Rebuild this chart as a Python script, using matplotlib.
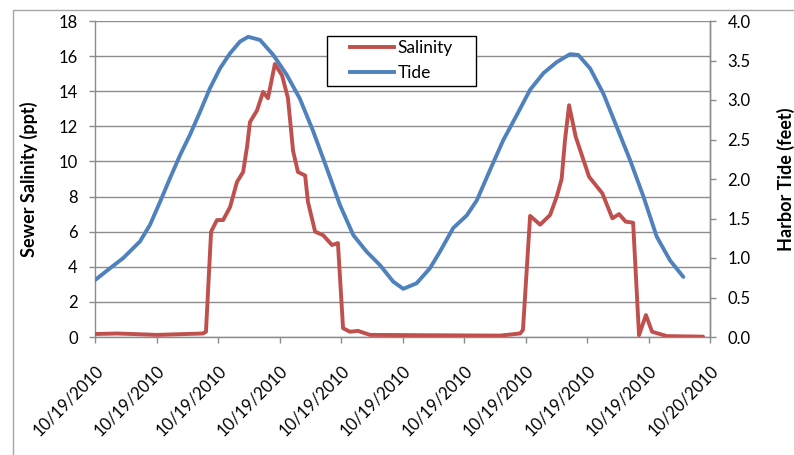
import matplotlib.pyplot as plt
from matplotlib.lines import Line2D
from matplotlib.patches import Rectangle

plt.rcParams['font.family'] = ['Lato', 'DejaVu Sans']

# hours since start of record (0 = first tick, 24 = 10/20/2010)
sal_hours = [0, 0.86, 2.42, 4.21, 4.33, 4.53, 4.76, 5.0, 5.27, 5.54, 5.78, 5.93, 6.05, 6.32,
             6.56, 6.75, 7.02, 7.30, 7.53, 7.73, 7.92, 8.20, 8.31, 8.59, 8.90, 9.25, 9.48,
             9.68, 9.95, 10.26, 10.73, 13.07, 15.80, 16.59, 16.70, 16.98, 17.37, 17.76,
             18.02, 18.21, 18.34, 18.50, 18.76, 19.28, 19.80, 20.19, 20.45, 20.71, 21.0,
             21.23, 21.50, 21.74, 22.32, 23.73]
salinity = [0.17, 0.2, 0.12, 0.2, 0.3, 6.0, 6.66, 6.66, 7.4, 8.83, 9.4, 10.8, 12.25, 12.9,
            13.96, 13.6, 15.55, 14.9, 13.6, 10.6, 9.4, 9.2, 7.7, 6.0, 5.8, 5.24, 5.35,
            0.5, 0.3, 0.35, 0.12, 0.1, 0.08, 0.2, 0.4, 6.9, 6.4, 6.95,
            8.0, 9.0, 11.2, 13.2, 11.4, 9.13, 8.18, 6.76, 7.0, 6.57, 6.51,
            0.1, 1.25, 0.3, 0.05, 0.02]

tide_hours = [0, 0.585, 1.104, 1.756, 2.146, 2.537, 2.927, 3.317, 3.707, 4.098, 4.488, 4.878,
              5.268, 5.659, 5.98, 6.439, 6.958, 7.48, 7.99, 8.52, 9.04, 9.56, 10.08, 10.60,
              11.12, 11.64, 12.03, 12.55, 13.07, 13.46, 13.98, 14.51, 14.90, 15.41, 15.93,
              16.46, 16.98, 17.50, 18.02, 18.54, 18.86, 19.32, 19.84, 20.36, 20.88, 21.40,
              21.92, 22.44, 22.96]
tide = [0.72, 0.87, 1.00, 1.21, 1.42, 1.71, 2.01, 2.30, 2.56, 2.85, 3.15, 3.40,
        3.59, 3.74, 3.80, 3.76, 3.57, 3.32, 3.02, 2.60, 2.14, 1.67, 1.29, 1.08,
        0.91, 0.70, 0.61, 0.68, 0.87, 1.08, 1.38, 1.54, 1.73, 2.11, 2.49,
        2.81, 3.13, 3.34, 3.48, 3.58, 3.57, 3.40, 3.08, 2.66, 2.24, 1.78,
        1.27, 0.97, 0.76]

tick_hours = [0, 2.4, 4.8, 7.2, 9.6, 12, 14.4, 16.8, 19.2, 21.6, 24]
tick_labels = ['10/19/2010'] * 10 + ['10/20/2010']

red = '#C0504D'
blue = '#4F81BD'
grid_c = '#8C8C8C'

fig = plt.figure(figsize=(7.94, 4.55), dpi=100)
ax = fig.add_axes([95 / 794, 1 - 337 / 455, 615 / 794, 316 / 455])
ax2 = ax.twinx()

# chart area border
fig.patches.append(Rectangle((13 / 794, -0.1), 1.2, 1 - 10 / 455 + 0.1, transform=fig.transFigure,
                             fill=False, edgecolor='#A6A6A6', lw=1))

ax.plot(sal_hours, salinity, color=red, lw=2.8, solid_joinstyle='round', solid_capstyle='round', zorder=3)
ax2.plot(tide_hours, tide, color=blue, lw=2.8, solid_joinstyle='round', solid_capstyle='round', zorder=3)

ax.set_xlim(0, 24)
ax.set_ylim(0, 18)
ax2.set_ylim(0, 4)
ax.set_yticks(range(0, 19, 2))
ax2.set_yticks([i * 0.5 for i in range(9)])
ax2.set_yticklabels(['%.1f' % (i * 0.5) for i in range(9)])
ax.set_xticks(tick_hours)
ax.set_xticklabels(tick_labels, rotation=45, ha='right', rotation_mode='anchor')

ax.yaxis.grid(True, color=grid_c, lw=1)
ax.set_axisbelow(True)

for a in (ax, ax2):
    for s in a.spines.values():
        s.set_color(grid_c)
        s.set_linewidth(1)
    a.spines['top'].set_visible(False)
ax2.spines['left'].set_visible(False)
ax2.spines['bottom'].set_visible(False)

ax.tick_params(axis='both', colors=grid_c, labelcolor='black', labelsize=12, length=4.5, width=1, pad=8)
ax.tick_params(axis='x', labelsize=12, pad=14)
ax2.tick_params(axis='y', colors=grid_c, labelcolor='black', labelsize=12, length=4.5, width=1, pad=8)

ax.set_ylabel('Sewer Salinity (ppt)', fontsize=13, fontweight='bold', labelpad=15)
ax2.set_ylabel('Harbor Tide (feet)', fontsize=13, fontweight='bold', rotation=90, labelpad=19)

# legend: entries placed without frame, frame drawn separately to match the padded Excel box
handles = [Line2D([], [], color=red, lw=2.8), Line2D([], [], color=blue, lw=2.8)]
leg = ax2.legend(handles, ['Salinity', 'Tide'], loc='center', bbox_to_anchor=(0.5057, 1 - 60.5 / 455),
                 bbox_transform=fig.transFigure, fontsize=12.5, frameon=False,
                 handlelength=2.5, handletextpad=0.2, borderpad=0, borderaxespad=0, labelspacing=0.5)
leg.set_zorder(6)
ax2.add_patch(Rectangle((327 / 794, 1 - 86 / 455), 149 / 794, 50 / 455, transform=fig.transFigure,
                        clip_on=False, facecolor='white', edgecolor='black', lw=1, zorder=5))

fig.savefig('out.png', dpi=100)
